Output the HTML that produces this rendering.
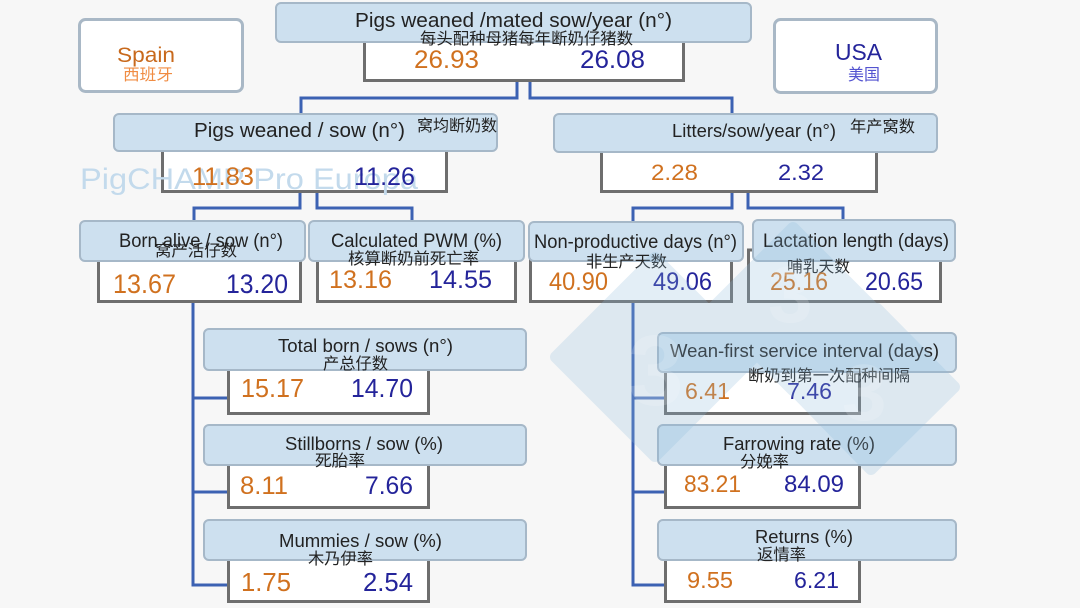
<!DOCTYPE html>
<html><head><meta charset="utf-8"><style>
html,body{margin:0;padding:0;background:#f7f7f7;}
svg{display:block;}
text{font-family:"Liberation Sans","Noto Sans CJK SC",sans-serif;}
.h{fill:#cde0ef;stroke:#a6b8c8;stroke-width:2;}
.v{fill:#ffffff;stroke:#6e6e6e;stroke-width:3;}
.c{fill:none;stroke:#3c62b3;stroke-width:3;}
.t{fill:#222;}
.z{fill:#222;font-family:"Noto Sans CJK SC",sans-serif;}
.o{fill:#d0711f;}
.b{fill:#24249a;}
</style></head><body>
<svg width="1080" height="608" viewBox="0 0 1080 608" xmlns="http://www.w3.org/2000/svg">
<rect width="1080" height="608" fill="#f7f7f7"/>

<!-- Spain / USA -->
<rect x="79.5" y="19.5" width="163" height="72" rx="6" fill="#fff" stroke="#a9b8c6" stroke-width="3"/>
<text x="117" y="62" font-size="21" fill="#c8691c" textLength="58" lengthAdjust="spacingAndGlyphs">Spain</text>
<text x="123" y="80" font-size="16" fill="#f08c43" style="font-family:'Noto Sans CJK SC',sans-serif" textLength="50" lengthAdjust="spacingAndGlyphs">西班牙</text>
<rect x="774.5" y="19.5" width="162" height="73" rx="6" fill="#fff" stroke="#a9b8c6" stroke-width="3"/>
<text x="835" y="60" font-size="23" fill="#24249a" textLength="47" lengthAdjust="spacingAndGlyphs">USA</text>
<text x="848" y="80" font-size="16" fill="#5353d0" style="font-family:'Noto Sans CJK SC',sans-serif" textLength="32" lengthAdjust="spacingAndGlyphs">美国</text>

<!-- connectors -->
<path class="c" d="M517 82 V98 H301 V113 M530 82 V98 H732 V113"/>
<path class="c" d="M300 193 V208 H194 V220 M317 193 V208 H412 V220"/>
<path class="c" d="M732 193 V208 H633 V221 M748 193 V208 H843 V219"/>
<path class="c" d="M193 303 V585 H228 M193 398 H228 M193 492 H228"/>
<path class="c" d="M633 303 V585 H664 M633 398 H664 M633 492 H664"/>

<!-- value boxes -->
<rect class="v" x="364.5" y="30" width="319" height="50.5"/>
<rect class="v" x="162.5" y="140" width="284" height="51.5"/>
<rect class="v" x="601.5" y="140" width="275" height="51.5"/>
<rect class="v" x="98.5" y="250" width="202" height="51.5"/>
<rect class="v" x="317.5" y="250" width="198" height="51.5"/>
<rect class="v" x="530.5" y="250" width="201" height="51.5"/>
<rect class="v" x="748.5" y="250" width="192" height="51.5"/>
<rect class="v" x="228.5" y="360" width="200" height="53.5"/>
<rect class="v" x="228.5" y="455" width="200" height="52.5"/>
<rect class="v" x="228.5" y="550" width="200" height="51.5"/>
<rect class="v" x="665.5" y="360" width="194" height="53.5"/>
<rect class="v" x="665.5" y="455" width="194" height="52.5"/>
<rect class="v" x="665.5" y="550" width="194" height="51.5"/>

<!-- header boxes -->
<rect class="h" x="276" y="3" width="475" height="39" rx="5"/>
<rect class="h" x="114" y="114" width="383" height="37" rx="5"/>
<rect class="h" x="554" y="114" width="383" height="38" rx="5"/>
<rect class="h" x="80" y="221" width="225" height="40" rx="5"/>
<rect class="h" x="309" y="221" width="215" height="40" rx="5"/>
<rect class="h" x="529" y="222" width="214" height="39" rx="5"/>
<rect class="h" x="753" y="220" width="202" height="41" rx="5"/>
<rect class="h" x="204" y="329" width="322" height="41" rx="5"/>
<rect class="h" x="204" y="425" width="322" height="40" rx="5"/>
<rect class="h" x="204" y="520" width="322" height="40" rx="5"/>
<rect class="h" x="658" y="333" width="298" height="39" rx="5"/>
<rect class="h" x="658" y="425" width="298" height="40" rx="5"/>
<rect class="h" x="658" y="520" width="298" height="40" rx="5"/>

<!-- PigCHAMP watermark -->
<text x="80" y="189" font-size="30" fill="#c3daec" textLength="338" lengthAdjust="spacingAndGlyphs">PigCHAMP Pro Europa</text>

<!-- header texts -->
<text class="t" x="355" y="27" font-size="20" textLength="317" lengthAdjust="spacingAndGlyphs">Pigs weaned /mated sow/year (n°)</text>
<text class="z" x="420" y="44" font-size="16" textLength="213" lengthAdjust="spacingAndGlyphs">每头配种母猪每年断奶仔猪数</text>

<text class="t" x="194" y="137" font-size="20" textLength="211" lengthAdjust="spacingAndGlyphs">Pigs weaned / sow (n°)</text>
<text class="z" x="417" y="131" font-size="16" textLength="80" lengthAdjust="spacingAndGlyphs">窝均断奶数</text>

<text class="t" x="672" y="137" font-size="18" textLength="164" lengthAdjust="spacingAndGlyphs">Litters/sow/year (n°)</text>
<text class="z" x="850" y="132" font-size="16" textLength="65" lengthAdjust="spacingAndGlyphs">年产窝数</text>

<text class="t" x="119" y="247" font-size="19" textLength="164" lengthAdjust="spacingAndGlyphs">Born alive / sow (n°)</text>
<text class="z" x="155" y="256" font-size="16" textLength="82" lengthAdjust="spacingAndGlyphs">窝产活仔数</text>

<text class="t" x="331" y="247" font-size="19" textLength="171" lengthAdjust="spacingAndGlyphs">Calculated PWM (%)</text>
<text class="z" x="348" y="264" font-size="16" textLength="131" lengthAdjust="spacingAndGlyphs">核算断奶前死亡率</text>

<text class="t" x="534" y="248" font-size="19" textLength="203" lengthAdjust="spacingAndGlyphs">Non-productive days (n°)</text>
<text class="z" x="586" y="267" font-size="16" textLength="81" lengthAdjust="spacingAndGlyphs">非生产天数</text>

<text class="t" x="763" y="247" font-size="19" textLength="186" lengthAdjust="spacingAndGlyphs">Lactation length (days)</text>
<text class="z" x="787" y="272" font-size="16" textLength="63" lengthAdjust="spacingAndGlyphs">哺乳天数</text>

<text class="t" x="278" y="352" font-size="18.5" textLength="175" lengthAdjust="spacingAndGlyphs">Total born / sows (n°)</text>
<text class="z" x="323" y="369" font-size="16" textLength="65" lengthAdjust="spacingAndGlyphs">产总仔数</text>

<text class="t" x="285" y="450" font-size="18.5" textLength="158" lengthAdjust="spacingAndGlyphs">Stillborns / sow (%)</text>
<text class="z" x="315" y="466" font-size="16" textLength="50" lengthAdjust="spacingAndGlyphs">死胎率</text>

<text class="t" x="279" y="547" font-size="18.5" textLength="163" lengthAdjust="spacingAndGlyphs">Mummies / sow (%)</text>
<text class="z" x="308" y="564" font-size="16" textLength="65" lengthAdjust="spacingAndGlyphs">木乃伊率</text>

<text class="t" x="670" y="357" font-size="18.5" textLength="269" lengthAdjust="spacingAndGlyphs">Wean-first service interval (days)</text>
<text class="z" x="748" y="381" font-size="16" textLength="162" lengthAdjust="spacingAndGlyphs">断奶到第一次配种间隔</text>

<text class="t" x="723" y="450" font-size="18.5" textLength="152" lengthAdjust="spacingAndGlyphs">Farrowing rate (%)</text>
<text class="z" x="740" y="467" font-size="16" textLength="49" lengthAdjust="spacingAndGlyphs">分娩率</text>

<text class="t" x="755" y="543" font-size="18.5" textLength="98" lengthAdjust="spacingAndGlyphs">Returns (%)</text>
<text class="z" x="757" y="560" font-size="16" textLength="49" lengthAdjust="spacingAndGlyphs">返情率</text>

<!-- values -->
<text class="o" x="414" y="68" font-size="25" textLength="65" lengthAdjust="spacingAndGlyphs">26.93</text>
<text class="b" x="580" y="68" font-size="25" textLength="65" lengthAdjust="spacingAndGlyphs">26.08</text>

<text class="o" x="192" y="185" font-size="25" textLength="62" lengthAdjust="spacingAndGlyphs">11.83</text>
<text class="b" x="354" y="185" font-size="25" textLength="61" lengthAdjust="spacingAndGlyphs">11.26</text>

<text class="o" x="651" y="180" font-size="22" textLength="47" lengthAdjust="spacingAndGlyphs">2.28</text>
<text class="b" x="778" y="180" font-size="22" textLength="46" lengthAdjust="spacingAndGlyphs">2.32</text>

<text class="o" x="113" y="293" font-size="27" textLength="63" lengthAdjust="spacingAndGlyphs">13.67</text>
<text class="b" x="226" y="293" font-size="27" textLength="62" lengthAdjust="spacingAndGlyphs">13.20</text>

<text class="o" x="329" y="288" font-size="25" textLength="63" lengthAdjust="spacingAndGlyphs">13.16</text>
<text class="b" x="429" y="288" font-size="25" textLength="63" lengthAdjust="spacingAndGlyphs">14.55</text>

<text class="o" x="549" y="290" font-size="25" textLength="59" lengthAdjust="spacingAndGlyphs">40.90</text>
<text class="b" x="653" y="290" font-size="25" textLength="59" lengthAdjust="spacingAndGlyphs">49.06</text>

<text class="o" x="770" y="290" font-size="25" textLength="58" lengthAdjust="spacingAndGlyphs">25.16</text>
<text class="b" x="865" y="290" font-size="25" textLength="58" lengthAdjust="spacingAndGlyphs">20.65</text>

<text class="o" x="241" y="397" font-size="26" textLength="63" lengthAdjust="spacingAndGlyphs">15.17</text>
<text class="b" x="351" y="397" font-size="26" textLength="62" lengthAdjust="spacingAndGlyphs">14.70</text>

<text class="o" x="240" y="494" font-size="25" textLength="48" lengthAdjust="spacingAndGlyphs">8.11</text>
<text class="b" x="365" y="494" font-size="25" textLength="48" lengthAdjust="spacingAndGlyphs">7.66</text>

<text class="o" x="241" y="591" font-size="26" textLength="50" lengthAdjust="spacingAndGlyphs">1.75</text>
<text class="b" x="363" y="591" font-size="26" textLength="50" lengthAdjust="spacingAndGlyphs">2.54</text>

<text class="o" x="685" y="399" font-size="23" textLength="45" lengthAdjust="spacingAndGlyphs">6.41</text>
<text class="b" x="787" y="399" font-size="23" textLength="45" lengthAdjust="spacingAndGlyphs">7.46</text>

<text class="o" x="684" y="492" font-size="24" textLength="57" lengthAdjust="spacingAndGlyphs">83.21</text>
<text class="b" x="784" y="492" font-size="24" textLength="60" lengthAdjust="spacingAndGlyphs">84.09</text>

<text class="o" x="687" y="588" font-size="23" textLength="46" lengthAdjust="spacingAndGlyphs">9.55</text>
<text class="b" x="794" y="588" font-size="23" textLength="45" lengthAdjust="spacingAndGlyphs">6.21</text>

<!-- 3tres3 watermark -->
<g opacity="0.24" fill="#8fbcdc" stroke="#8fbcdc" stroke-width="12" stroke-linejoin="round">
<path d="M556 357 L655 258 L754 357 L655 456 Z M712 309 L793 228 L874 309 L793 390 Z M794 390 L877 309 L954 387 L871 469 Z"/>
</g>
<g fill="#ffffff" opacity="0.16" font-weight="bold" style="font-family:'Liberation Sans',sans-serif">
<text x="628" y="405" font-size="100">3</text>
<text x="768" y="322" font-size="80">3</text>
<text x="842" y="420" font-size="80">3</text>
</g>
</svg>
</body></html>
